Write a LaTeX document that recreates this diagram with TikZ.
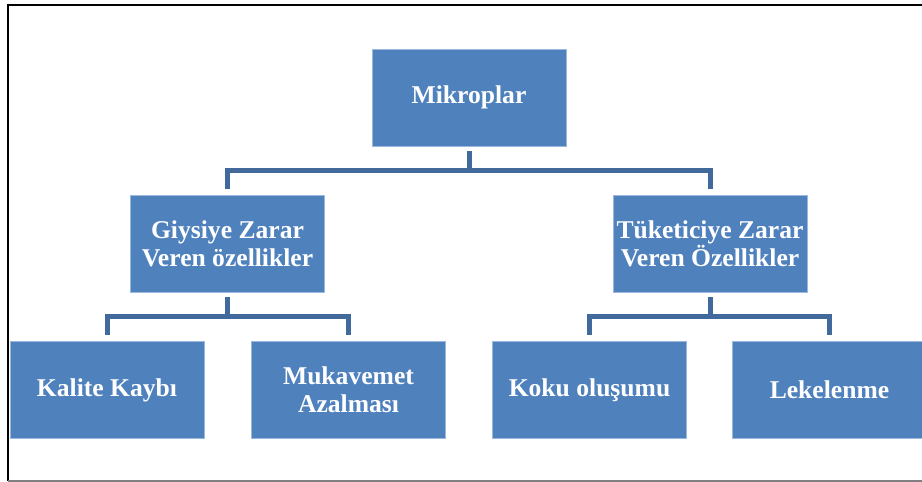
\documentclass[tikz,border=0pt]{standalone}
\usepackage{fontspec}
\setmainfont{Liberation Serif}
\usepackage{xcolor}
\usepackage{tikz}
\definecolor{boxblue}{HTML}{4F81BD}
\definecolor{boxedge}{HTML}{9BB9DE}
\definecolor{linkblue}{HTML}{41699C}

\begin{document}
\begin{tikzpicture}[x=1pt,y=-1pt,
  box/.style={rectangle,minimum width=194pt,minimum height=97pt,inner sep=2pt,
    fill=boxblue,draw=boxedge,line width=0.8pt,text=white,align=center,
    font=\fontsize{25.6}{28.2}\selectfont\bfseries},
  link/.style={draw=linkblue,line width=5pt,shorten <=5pt,shorten >=6pt}]
\useasboundingbox (0,0) rectangle (922,482);
\draw[line width=2pt] (922,5) -- (8,5) -- (8,481);
\draw[line width=1.5pt,gray] (8,481) -- (922,481);

\node (K0)[box] at (469,97.5) {Mikroplar};

\node (K1)[box] at (227.5,243.5) {Giysiye Zarar\\Veren özellikler};
\node (K2)[box] at (710,243.5) {Tüketiciye Zarar\\Veren Özellikler};

\node (K11)[box] at (107,390) {Kalite Kaybı};
\node (K12)[box] at (348.5,390) {Mukavemet\\Azalması};
\node (K21)[box] at (589.5,390) {Koku oluşumu};
\node (K22)[box] at (829.5,390) {Lekelenme};

\draw[link] (K0.south) -- ++(0,24) -| (K1.north);
\draw[link] (K0.south) -- ++(0,24) -| (K2.north);

\draw[link] (K1.south) -- ++(0,24) -| (K11.north);
\draw[link] (K1.south) -- ++(0,24) -| (K12.north);

\draw[link] (K2.south) -- ++(0,24) -| (K21.north);
\draw[link] (K2.south) -- ++(0,24) -| (K22.north);
\end{tikzpicture}
\end{document}
